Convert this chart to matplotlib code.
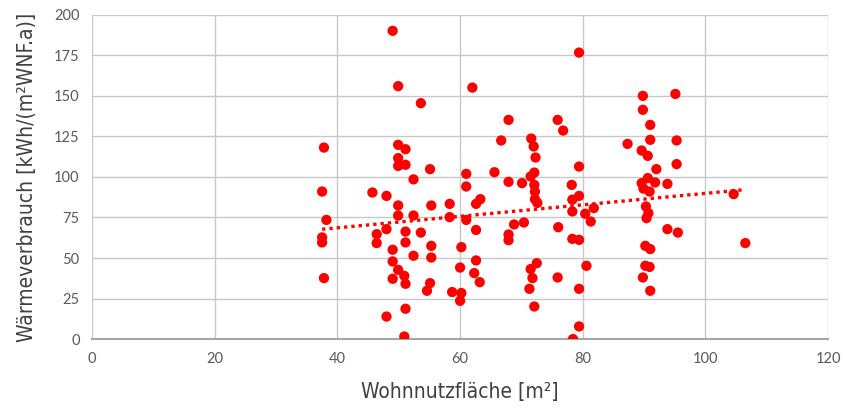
import numpy as np
import matplotlib
matplotlib.use("Agg")
import matplotlib.pyplot as plt

# living area [m2] and heat consumption [kWh/(m2 WNF.a)]
area = [
    37.8, 37.5, 38.2, 37.5, 37.5, 37.8,
    45.7, 48.0, 46.4, 46.4, 48.0, 49.0, 49.9, 53.6, 49.9, 51.1, 49.9, 49.9,
    51.1, 55.1, 52.4, 49.9, 49.9, 52.4, 55.3, 51.1, 53.6, 51.1, 49.0, 55.3,
    55.3, 52.4, 49.0, 49.9, 50.9, 49.0, 51.1, 55.1, 54.6, 51.1, 48.0, 50.9,
    58.3, 58.3, 61.0, 62.6, 63.3, 61.0, 61.0, 62.0, 65.6, 67.9, 70.1, 66.7,
    67.9, 62.6, 68.8, 70.4, 67.9, 67.9, 60.2, 60.0, 62.6, 62.3, 63.2, 58.7,
    60.2, 60.0,
    71.6, 72.0, 72.3, 72.1, 71.5, 72.1, 72.2, 72.2, 72.6, 75.9, 76.8, 79.4,
    79.4, 78.2, 78.3, 79.4, 78.3, 80.4, 81.8, 81.3, 76.0, 78.3, 79.4, 71.5,
    72.5, 71.8, 71.3, 75.9, 80.6, 79.4, 72.1, 79.4, 78.4,
    87.3, 89.8, 95.1, 89.8, 91.0, 91.0, 95.3, 89.6, 90.6, 92.0, 95.3, 89.6,
    90.6, 91.8, 90.9, 89.9, 93.8, 90.3, 90.7, 90.4, 93.8, 95.5, 90.2, 91.0,
    90.2, 90.9, 89.8, 91.0,
    104.6, 106.5,
]
heat = [
    118.1, 91.0, 73.5, 62.7, 59.6, 37.6,
    90.4, 88.3, 64.7, 59.2, 67.8, 190.1, 156.0, 145.5, 119.8, 117.1, 111.6, 106.8,
    107.5, 104.8, 98.5, 82.4, 76.2, 76.2, 82.4, 66.3, 65.7, 59.6, 55.1, 57.5,
    50.3, 51.4, 47.9, 42.7, 39.0, 37.2, 34.1, 34.5, 29.8, 18.7, 13.9, 1.6,
    83.4, 75.2, 73.5, 83.4, 86.3, 101.9, 94.1, 155.1, 102.9, 97.0, 96.2, 122.5,
    135.2, 67.3, 70.7, 71.9, 64.5, 61.0, 56.7, 44.1, 48.5, 40.7, 35.1, 29.0,
    28.4, 23.6,
    123.7, 118.8, 112.0, 102.7, 100.3, 95.1, 91.0, 86.3, 84.0, 135.2, 128.6, 176.7,
    106.4, 95.1, 86.0, 88.3, 78.7, 77.3, 80.8, 72.5, 69.0, 61.8, 61.2, 43.2,
    46.8, 37.6, 31.0, 38.0, 45.2, 31.0, 20.1, 7.8, 0.0,
    120.4, 150.0, 151.2, 141.4, 132.1, 122.9, 122.5, 116.3, 113.0, 104.8, 107.9, 96.2,
    99.3, 96.6, 91.0, 92.8, 95.7, 81.8, 77.7, 74.6, 67.8, 65.7, 57.5, 55.5,
    45.2, 44.5, 38.0, 29.8,
    89.4, 59.2,
]

x_ticks = [0, 20, 40, 60, 80, 100, 120]
y_ticks = [0, 25, 50, 75, 100, 125, 150, 175, 200]

red = "#ff0000"
grid_col = "#c8c8c8"
tick_col = "#595959"
label_col = "#404040"

fig = plt.figure(figsize=(8.45, 4.11), dpi=100)
ax = fig.add_axes([0.109, 0.175, 0.871, 0.789])

ax.scatter(area, heat, s=55, color=red, edgecolors="none", zorder=3)

# linear trend line over the data range
k, d = np.polyfit(area, heat, 1)
xr = np.array([min(area), max(area)])
ax.plot(xr, k * xr + d, color=red, linestyle=(0, (1, 1.2)), lw=2.4, zorder=4)

ax.set_xlim(0, 120)
ax.set_ylim(0, 200)
ax.set_xticks(x_ticks)
ax.set_yticks(y_ticks)
ax.grid(True, color=grid_col, linewidth=1.0, zorder=0)
for name, sp in ax.spines.items():
    sp.set_visible(False)
ax.spines["bottom"].set_visible(True)
ax.spines["bottom"].set_color("#a6a6a6")
ax.spines["bottom"].set_linewidth(1.5)
ax.tick_params(length=0, labelsize=10.5, labelcolor=tick_col, pad=9)
for t in ax.get_xticklabels() + ax.get_yticklabels():
    t.set_family(["Lato", "DejaVu Sans"])

lbl = dict(color=label_col, family="DejaVu Sans", fontstretch="condensed")
ax.set_xlabel("Wohnnutzfläche [m²]", fontsize=15, labelpad=12, **lbl)
ax.set_ylabel("Wärmeverbrauch [kWh/(m²WNF.a)]", fontsize=15, labelpad=12, **lbl)

fig.savefig("out.png", dpi=100)
